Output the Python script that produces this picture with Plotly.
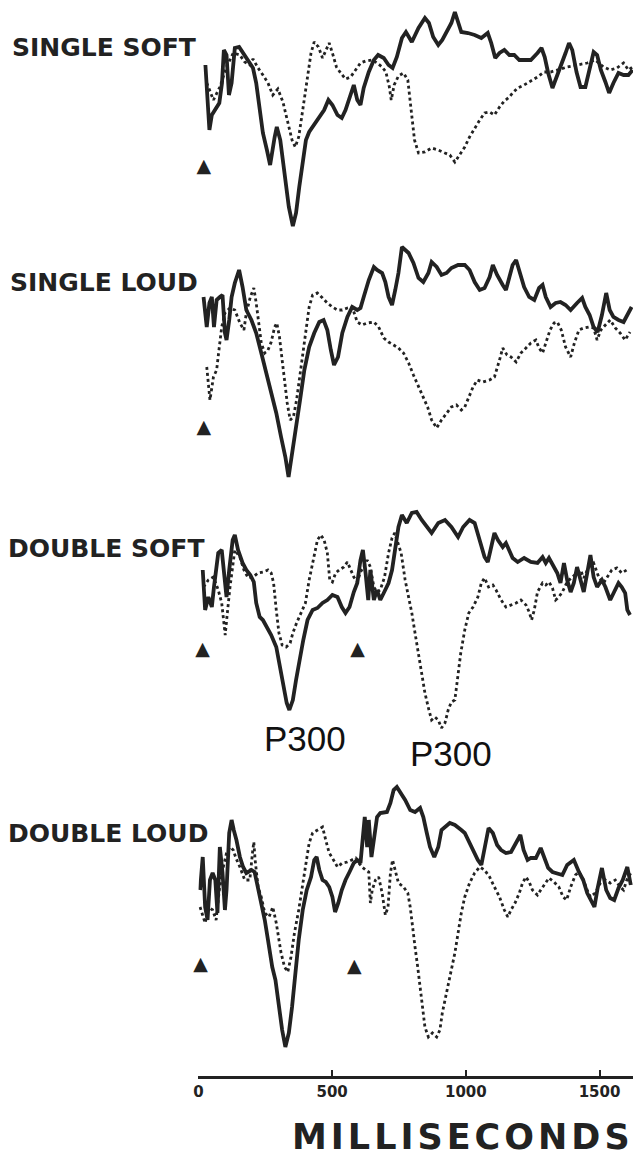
import plotly.graph_objects as go

# ---------------- data (time in ms, amplitude in uV, positive plotted downward) ----------------
PANEL_NAMES = ["SINGLE SOFT", "SINGLE LOUD", "DOUBLE SOFT", "DOUBLE LOUD"]
TICK_VALUES = [0, 500, 1000, 1500]
TICK_LABELS = ["0", "500", "1000", "1500"]
X_TITLE = "MILLISECONDS"
PEAK_LABEL = "P300"
STIM_SYMBOL = "\u25B2"

SINGLE_SOFT_SOLID = [(26,-3.5),(34,0),(41,3.0),(50,1.5),(62,1.0),(78,0.3),(88,-1.7),(95,-5.0),(105,-4.5),(114,-0.5),
    (124,-1.7),(136,-5.2),(152,-5.3),(167,-4.7),(186,-3.8),(204,-3.2),(216,-1.7),(229,1.0),(241,3.3),(256,5.0),
    (268,6.5),(285,3.7),(293,2.7),(306,4.0),(322,7.3),(338,10.7),(353,12.6),(365,11.3),(377,8.7),(390,6.0),
    (402,4.0),(414,3.2),(433,2.5),(452,1.7),(470,1.0),(486,0),(501,0.5),(520,1.5),(536,1.8),(550,1.0),
    (569,-0.7),(581,-1.5),(594,0),(606,0.5),(618,-1.2),(637,-2.8),(656,-4.0),(672,-4.5),(693,-4.2),(711,-3.5),
    (726,-3.2),(742,-4.3),(761,-6.2),(776,-6.8),(798,-5.8),(823,-7.2),(847,-8.2),(862,-7.7),(878,-6.3),(897,-5.5),
    (912,-6.0),(928,-6.8),(946,-7.7),(959,-8.8),(971,-7.7),(983,-6.8),(1008,-6.7),(1033,-6.5),(1058,-6.2),(1082,-6.7),
    (1095,-5.7),(1110,-4.2),(1126,-4.7),(1144,-5.0),(1163,-4.5),(1181,-4.5),(1200,-4.0),(1218,-4.0),(1243,-4.0),(1268,-4.7),
    (1283,-5.2),(1295,-4.3),(1308,-2.7),(1324,-1.2),(1336,-2.0),(1354,-3.3),(1373,-4.7),(1386,-5.7),(1398,-5.0),(1414,-2.8),
    (1429,-1.3),(1447,-1.3),(1463,-3.3),(1478,-4.8),(1491,-4.5),(1505,-3.0),(1522,-1.8),(1536,-0.7),(1552,-1.7),(1571,-2.7),
    (1590,-2.5),(1608,-2.5),(1624,-3.0)]

SINGLE_SOFT_DOTTED = [(31,-1.7),(56,0),(80,-1.3),(105,-3.3),(130,-4.7),(155,-4.5),(173,-3.8),(192,-3.5),(204,-4.1),(223,-3.2),
    (241,-2.5),(260,-1.7),(278,-0.5),(297,-1.1),(316,0.2),(334,2.3),(350,4.0),(362,4.7),(375,3.7),(390,1.0),
    (405,-2.0),(421,-4.7),(433,-5.8),(449,-5.3),(464,-4.2),(476,-5.0),(489,-5.7),(501,-4.7),(516,-3.3),(532,-2.7),
    (550,-2.1),(569,-2.3),(588,-3.0),(606,-3.7),(625,-3.9),(650,-4.0),(668,-3.7),(687,-3.3),(701,-2.8),(714,-1.3),
    (721,0),(732,-1.5),(748,-2.4),(767,-2.7),(783,-2.0),(795,0.7),(808,4.0),(823,5.3),(847,5.2),(872,4.8),
    (897,5.0),(922,5.3),(940,5.5),(959,6.2),(977,5.4),(996,4.7),(1014,3.7),(1033,2.8),(1052,2.0),(1070,1.3),
    (1089,1.2),(1107,1.5),(1126,0.7),(1144,0.1),(1163,-0.3),(1175,-0.7),(1194,-1.2),(1218,-1.5),(1243,-1.9),(1268,-2.3),
    (1293,-2.8),(1317,-2.8),(1342,-3.0),(1379,-3.3),(1416,-3.5),(1454,-3.7),(1484,-4.0),(1515,-3.3),(1540,-3.0),(1565,-3.2),
    (1590,-3.7),(1608,-3.0),(1624,-3.3)]

SINGLE_LOUD_SOLID = [(19,-1.3),(31,1.7),(41,-0.7),(50,-1.3),(58,1.7),(68,-1.0),(80,-1.3),(90,-1.5),(99,2.3),(105,3.0),
    (115,1.0),(124,-1.3),(136,-2.7),(152,-4.0),(165,-2.3),(179,0),(198,1.0),(216,2.3),(235,4.3),(254,6.3),
    (272,8.3),(291,10.3),(309,12.7),(325,14.7),(337,16.7),(349,14.7),(365,11.7),(380,9.0),(396,6.0),(414,3.7),
    (433,2.3),(452,1.2),(468,1.0),(482,2.0),(495,4.0),(507,5.5),(522,4.7),(538,2.3),(557,0.7),(575,-0.3),
    (594,0),(606,-0.2),(618,-1.3),(637,-3.0),(656,-4.3),(668,-4.0),(687,-3.7),(699,-2.8),(711,-1.3),(724,-0.5),
    (736,-2.0),(748,-3.7),(761,-6.3),(786,-5.7),(804,-4.7),(823,-3.2),(841,-2.8),(860,-3.7),(872,-4.8),(891,-4.3),
    (909,-3.5),(928,-3.7),(946,-4.2),(971,-4.5),(996,-4.5),(1014,-4.0),(1033,-2.8),(1052,-2.0),(1070,-2.2),(1089,-3.3),
    (1101,-4.5),(1117,-3.5),(1138,-2.5),(1150,-2.0),(1163,-3.3),(1175,-4.5),(1188,-5.0),(1200,-4.0),(1218,-2.3),(1237,-1.3),
    (1256,-1.0),(1274,-2.2),(1287,-2.5),(1299,-1.3),(1317,-0.3),(1336,-0.7),(1354,-0.8),(1373,-0.5),(1392,0),(1416,-0.7),
    (1435,-1.2),(1447,-0.3),(1463,0.5),(1478,1.7),(1493,2.2),(1509,0.5),(1525,-1.7),(1538,0),(1552,0.7),(1571,1.0),
    (1590,1.2),(1604,0.5),(1620,-0.3)]

SINGLE_LOUD_DOTTED = [(31,5.7),(43,9.0),(56,6.7),(68,6.0),(78,3.7),(87,1.7),(99,0.3),(118,-0.2),(136,0),(155,1.3),
    (170,2.0),(179,0.3),(194,-1.3),(207,-2.2),(216,-0.7),(226,1.7),(235,3.3),(248,4.3),(260,4.0),(272,3.2),
    (285,1.7),(293,1.3),(303,2.7),(313,5.0),(322,7.3),(332,9.3),(343,11.0),(355,10.7),(367,9.0),(384,5.7),
    (400,2.7),(414,-0.3),(427,-1.5),(445,-1.7),(464,-1.2),(482,-0.7),(501,-0.3),(520,0),(538,0),(557,-0.2),
    (575,-0.3),(594,1.2),(612,1.5),(631,1.3),(656,1.2),(674,1.7),(693,2.8),(711,3.2),(730,3.5),(748,3.8),
    (767,4.3),(786,5.3),(804,6.5),(823,7.7),(841,8.7),(857,9.7),(872,11.0),(891,11.8),(909,11.0),(928,10.3),
    (946,9.7),(965,9.5),(983,10.0),(996,9.7),(1011,8.7),(1027,7.7),(1043,7.0),(1064,7.2),(1089,7.0),(1107,6.7),
    (1126,5.0),(1138,3.8),(1154,4.5),(1169,4.7),(1188,5.2),(1206,4.3),(1225,3.8),(1243,3.3),(1262,3.0),(1274,3.8),
    (1287,4.3),(1299,3.3),(1315,2.0),(1330,1.3),(1342,1.2),(1357,2.0),(1373,3.7),(1392,4.7),(1406,3.3),(1423,2.0),
    (1441,1.8),(1460,1.7),(1478,1.8),(1491,3.0),(1505,2.0),(1522,1.5),(1540,1.0),(1559,1.8),(1577,2.3),(1596,3.0),
    (1614,2.2)]

DOUBLE_SOFT_SOLID = [(16,-3.0),(25,1.0),(37,-0.3),(50,0.7),(58,-1.3),(74,-4.7),(87,-5.0),(99,-1.3),(105,-0.3),(115,-3.0),
    (128,-6.0),(136,-6.5),(148,-5.0),(165,-3.7),(179,-3.0),(194,-2.5),(207,-1.8),(216,0.3),(229,1.7),(241,2.0),
    (256,2.7),(272,3.5),(291,4.7),(306,6.7),(318,8.7),(330,10.3),(340,11.0),(353,10.0),(365,8.0),(377,6.0),
    (392,4.0),(408,2.0),(427,1.0),(445,0.8),(464,0.3),(482,0),(501,-0.5),(520,-0.3),(536,0.7),(550,1.3),
    (565,0.7),(581,-0.8),(594,-1.7),(606,-4.0),(615,-5.0),(625,-2.7),(635,0),(643,-3.0),(656,0),(668,-1.0),
    (680,0),(693,-0.7),(711,-1.7),(724,-3.0),(736,-5.3),(748,-7.3),(761,-8.5),(779,-7.7),(798,-8.7),(816,-8.8),
    (835,-8.0),(854,-7.3),(872,-6.7),(897,-7.7),(922,-8.0),(946,-7.3),(971,-6.3),(990,-7.3),(1014,-8.0),(1033,-7.7),
    (1052,-6.0),(1070,-4.3),(1082,-3.8),(1095,-5.3),(1107,-6.7),(1120,-6.0),(1138,-5.3),(1150,-5.7),(1163,-4.8),(1175,-4.2),
    (1194,-3.8),(1218,-4.2),(1243,-3.8),(1268,-3.7),(1287,-4.3),(1299,-3.7),(1311,-4.2),(1330,-3.3),(1342,-2.7),(1354,-1.7),
    (1367,-3.7),(1379,-2.0),(1392,-0.8),(1404,-1.7),(1416,-3.3),(1429,-2.0),(1441,-0.8),(1454,-2.7),(1466,-4.5),(1478,-2.3),
    (1491,-1.3),(1509,-2.0),(1522,-1.3),(1540,0),(1552,-0.7),(1571,-1.7),(1583,-1.3),(1596,-0.7),(1604,1.0),(1614,1.5)]

DOUBLE_SOFT_DOTTED = [(19,-1.3),(37,-2.0),(56,-2.3),(74,-1.0),(87,0.3),(95,2.0),(100,3.5),(108,1.3),(118,-1.3),(136,-5.0),
    (155,-4.3),(170,-3.0),(186,-2.2),(204,-2.3),(223,-2.7),(241,-2.8),(260,-3.0),(272,-2.7),(281,-1.7),(291,1.0),
    (301,3.3),(313,4.5),(328,4.7),(343,4.3),(353,3.3),(367,2.3),(384,1.3),(400,0.3),(414,-2.0),(429,-4.0),
    (445,-6.0),(458,-6.5),(470,-6.0),(482,-4.7),(491,-2.0),(501,-1.8),(513,-2.7),(526,-3.0),(544,-3.3),(557,-3.8),
    (569,-3.0),(581,-2.3),(594,-1.8),(606,-2.8),(618,-3.3),(631,-4.0),(643,-3.3),(656,-1.3),(668,-0.8),(680,-1.0),
    (696,-2.3),(711,-4.7),(724,-6.2),(734,-6.7),(746,-5.7),(758,-4.7),(773,-2.0),(786,-0.3),(798,1.3),(810,3.3),
    (823,5.3),(835,7.3),(847,9.3),(862,11.0),(872,12.0),(884,11.7),(897,12.0),(909,12.8),(922,12.3),(934,11.0),
    (946,10.2),(959,10.0),(969,8.0),(981,5.3),(996,3.0),(1011,1.3),(1027,0.7),(1045,-0.3),(1058,-1.7),(1070,-2.2),
    (1085,-1.3),(1101,-1.5),(1113,-1.0),(1132,0),(1150,0.7),(1169,0.5),(1188,0.3),(1206,0),(1225,0.5),(1237,1.2),
    (1246,2.0),(1256,1.0),(1268,-0.8),(1287,-1.7),(1299,-1.5),(1311,-1.8),(1324,-1.2),(1336,0),(1348,-0.3),(1361,-0.8),
    (1379,-1.8),(1398,-2.3),(1416,-2.7),(1429,-3.0),(1441,-2.2),(1460,-3.3),(1478,-3.7),(1497,-2.3),(1515,-1.7),(1528,-2.2),
    (1546,-3.0),(1565,-3.2),(1583,-2.7),(1602,-3.0)]

DOUBLE_LOUD_SOLID = [(6,1.0),(16,-2.3),(25,2.7),(34,4.0),(43,0),(53,-0.7),(63,0),(71,3.3),(80,-3.3),(90,-0.7),
    (99,3.0),(105,1.0),(115,-4.7),(124,-6.0),(132,-5.0),(142,-4.0),(155,-2.3),(167,-1.3),(179,-0.7),(198,-1.0),
    (210,-0.8),(223,0.7),(235,2.3),(248,4.0),(260,6.0),(276,8.7),(288,10.0),(301,12.7),(313,15.0),(325,16.7),
    (338,15.3),(350,12.7),(362,9.0),(375,6.0),(390,3.0),(405,1.0),(421,-0.3),(433,-2.0),(442,-2.3),(452,-1.0),
    (464,0),(476,0.2),(489,0.7),(501,1.7),(511,3.2),(523,2.3),(536,1.0),(550,0),(565,-0.8),(581,-1.7),
    (594,-2.0),(606,-1.7),(615,-4.3),(622,-6.3),(631,-3.3),(637,-6.0),(647,-2.3),(656,-4.3),(668,-6.3),(680,-6.7),
    (693,-6.8),(705,-6.8),(718,-7.7),(730,-9.0),(742,-9.3),(755,-8.8),(773,-8.0),(792,-7.0),(810,-6.8),(829,-7.2),
    (841,-6.3),(854,-4.7),(866,-3.3),(882,-2.3),(897,-3.3),(909,-5.0),(922,-5.3),(940,-5.7),(959,-5.5),(971,-5.3),
    (983,-5.0),(996,-4.7),(1021,-3.3),(1045,-2.0),(1058,-1.5),(1070,-3.3),(1085,-5.2),(1101,-4.7),(1117,-3.5),(1132,-3.0),
    (1150,-2.7),(1169,-2.8),(1188,-3.8),(1204,-4.5),(1216,-3.0),(1231,-2.0),(1243,-2.2),(1262,-2.2),(1280,-3.2),(1293,-2.3),
    (1308,-1.2),(1324,-0.8),(1342,-0.7),(1361,-0.5),(1379,-1.5),(1404,-2.0),(1423,-0.8),(1439,0),(1454,1.3),(1466,2.0),
    (1481,2.7),(1493,0.8),(1509,-1.2),(1525,1.0),(1540,1.8),(1555,2.0),(1571,0.8),(1587,0),(1604,-1.3),(1617,0.5)]

DOUBLE_LOUD_DOTTED = [(6,2.7),(25,4.3),(37,2.7),(53,3.0),(66,4.0),(78,1.0),(93,-1.3),(105,-2.7),(118,-3.3),(130,-3.0),
    (140,-2.2),(155,-1.3),(173,0),(192,0),(202,-2.7),(207,-3.8),(212,-2.0),(223,0.7),(235,1.7),(248,3.3),
    (264,3.7),(278,2.7),(291,4.3),(301,6.0),(309,7.3),(322,8.7),(334,9.2),(346,7.7),(359,5.3),(375,3.0),
    (390,0.3),(402,-2.0),(414,-3.7),(427,-4.7),(445,-5.0),(464,-5.3),(476,-4.0),(489,-2.7),(501,-2.2),(520,-1.3),
    (538,-1.7),(557,-1.8),(573,-2.0),(588,-2.2),(600,-1.7),(612,-1.3),(625,-1.0),(637,-0.8),(643,2.3),(650,1.0),
    (662,0),(674,-0.3),(687,1.3),(699,3.5),(709,2.7),(718,-0.7),(726,-2.0),(736,-0.8),(748,0.3),(767,0.7),
    (783,1.3),(792,2.7),(800,4.7),(810,6.7),(820,8.7),(829,10.7),(838,12.7),(847,14.7),(860,15.7),(875,15.3),
    (891,15.7),(903,15.0),(912,13.3),(922,12.0),(934,10.3),(946,9.0),(959,7.3),(971,5.3),(983,3.3),(996,1.7),
    (1014,0.3),(1033,-0.7),(1052,-1.3),(1070,-1.0),(1089,-0.3),(1107,0.7),(1126,1.7),(1144,3.0),(1157,3.7),(1169,3.0),
    (1184,2.3),(1200,1.3),(1212,0.3),(1225,-0.3),(1237,0.2),(1249,1.0),(1268,1.5),(1280,1.0),(1293,0.5),(1311,-0.2),
    (1330,0.2),(1348,0.7),(1364,1.7),(1377,2.0),(1392,0.7),(1410,-0.5),(1423,-0.8),(1435,-0.3),(1454,1.0),(1466,1.7),
    (1484,1.3),(1503,0.3),(1522,0),(1540,0.3),(1559,0),(1577,0.7),(1590,1.0),(1602,0),(1617,-0.7)]

# stimulus onset markers (time ms, amplitude level)
STIM_SINGLE_SOFT = [(20, 6.7)]
STIM_SINGLE_LOUD = [(20, 11.8)]
STIM_DOUBLE_SOFT = [(15, 5.0), (595, 5.0)]
STIM_DOUBLE_LOUD = [(8, 8.5), (583, 8.7)]

PANELS = [
    (SINGLE_SOFT_SOLID, SINGLE_SOFT_DOTTED, STIM_SINGLE_SOFT),
    (SINGLE_LOUD_SOLID, SINGLE_LOUD_DOTTED, STIM_SINGLE_LOUD),
    (DOUBLE_SOFT_SOLID, DOUBLE_SOFT_DOTTED, STIM_DOUBLE_SOFT),
    (DOUBLE_LOUD_SOLID, DOUBLE_LOUD_DOTTED, STIM_DOUBLE_LOUD),
]

# ---------------- layout constants ----------------
W, H = 633, 1160
INK = "#222222"
X0_PX = 195.0
PX_PER_MS = 0.2695
X_MAX = (W - X0_PX) / PX_PER_MS
PX_PER_UV = 10.0
PANEL_PX = [(0, 236, 100), (236, 500, 310), (500, 770, 600), (770, 1062, 880)]  # top, bottom, baseline
AXIS_PX = 1077
LABEL_POS = [(5, 47), (3, 282), (1, 549), (1, 833)]
P300_POS = [(302, 738), (450, 753)]
XTITLE_POS = (462, 1137)


def unzip(pairs):
    return [p[0] for p in pairs], [p[1] for p in pairs]


fig = go.Figure()
layout = dict(
    width=W, height=H, margin=dict(l=0, r=0, t=0, b=0),
    paper_bgcolor="white", plot_bgcolor="white", showlegend=False,
    xaxis=dict(domain=[X0_PX / W, 1], range=[0, X_MAX], anchor="free", position=1 - AXIS_PX / H,
               showline=True, linewidth=2.5, linecolor=INK, ticks="inside", ticklen=6, tickwidth=2,
               tickcolor=INK, tickvals=TICK_VALUES, ticktext=TICK_LABELS,
               tickfont=dict(family="DejaVu Sans", size=15, color=INK, weight="bold"),
               showgrid=False, zeroline=False, fixedrange=True),
)

for i, (solid, dotted, stim) in enumerate(PANELS):
    yname = "y" if i == 0 else f"y{i+1}"
    ykey = "yaxis" if i == 0 else f"yaxis{i+1}"
    top, bot, base = PANEL_PX[i]
    layout[ykey] = dict(domain=[1 - bot / H, 1 - top / H],
                        range=[(bot - base) / PX_PER_UV, (top - base) / PX_PER_UV],
                        anchor="x", visible=False, showgrid=False, zeroline=False, fixedrange=True)
    tx, vy = unzip(dotted)
    fig.add_trace(go.Scatter(x=tx, y=vy, xaxis="x", yaxis=yname, mode="lines",
                             line=dict(color=INK, width=2.8, dash="dot"), hoverinfo="skip"))
    tx, vy = unzip(solid)
    fig.add_trace(go.Scatter(x=tx, y=vy, xaxis="x", yaxis=yname, mode="lines",
                             line=dict(color=INK, width=3.8), hoverinfo="skip"))
    tx, vy = unzip(stim)
    fig.add_trace(go.Scatter(x=tx, y=vy, xaxis="x", yaxis=yname, mode="text",
                             text=[STIM_SYMBOL] * len(tx), textposition="middle center",
                             textfont=dict(family="DejaVu Sans", size=19, color=INK),
                             cliponaxis=False, hoverinfo="skip"))

annotations = []
for name, (lx, ly) in zip(PANEL_NAMES, LABEL_POS):
    annotations.append(dict(text=name, xref="paper", yref="paper", x=lx / W, y=1 - ly / H,
                            xanchor="left", yanchor="middle", showarrow=False,
                            font=dict(family="DejaVu Sans", size=25, color=INK, weight="bold")))
for (px, py) in P300_POS:
    annotations.append(dict(text=PEAK_LABEL, xref="paper", yref="paper", x=px / W, y=1 - py / H,
                            xanchor="center", yanchor="middle", showarrow=False,
                            font=dict(family="Liberation Sans", size=35, color="#111111")))
annotations.append(dict(text='<span style="letter-spacing:4px">' + X_TITLE + '</span>',
                        xref="paper", yref="paper", x=XTITLE_POS[0] / W, y=1 - XTITLE_POS[1] / H,
                        xanchor="center", yanchor="middle", showarrow=False,
                        font=dict(family="DejaVu Sans", size=35, color=INK, weight="bold")))
layout["annotations"] = annotations
fig.update_layout(**layout)
fig.write_html("out.html")
